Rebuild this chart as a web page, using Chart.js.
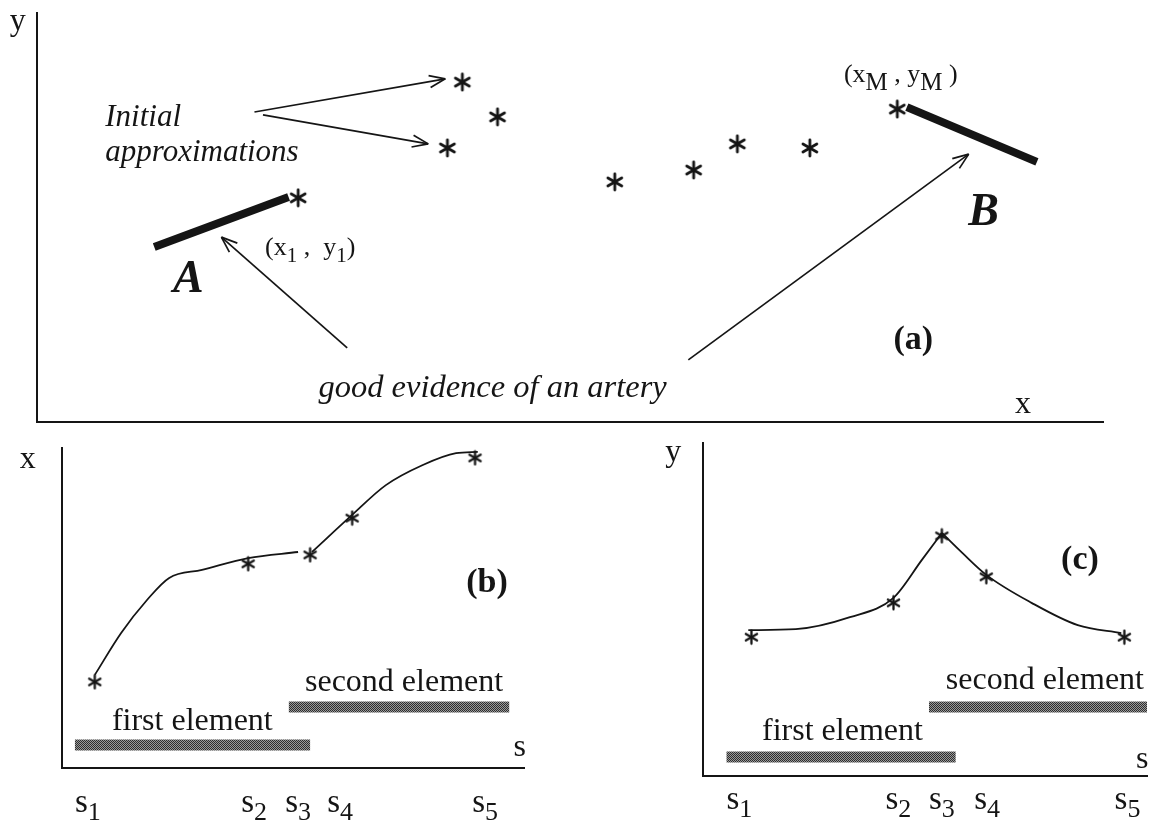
<!DOCTYPE html>
<html>
<head>
<meta charset="utf-8">
<title>Artery tracking sketch</title>
<script src="https://cdn.jsdelivr.net/npm/chart.js@4.4.1/dist/chart.umd.min.js"></script>
<style>
  html, body { margin: 0; background: #fff; }
  #wrap { position: relative; width: 1153px; height: 822px; overflow: hidden; }
  canvas { position: absolute; }
</style>
</head>
<body>
<div id="wrap">
  <canvas id="panelA" width="1153" height="440" style="left:0px;top:0px"></canvas>
  <canvas id="panelB" width="576" height="392" style="left:0px;top:430px"></canvas>
  <canvas id="panelC" width="577" height="392" style="left:576px;top:430px"></canvas>
</div>
<script>
// (a) the x-y plane, both axes run 0..100
const aStarX = [24.5, 39.9, 43.2, 38.5, 54.2, 61.6, 65.7, 72.5, 80.7];
const aStarY = [54.8, 83.1, 74.6, 67.0, 58.7, 61.6, 68.0, 67.0, 76.5];
const aSegAX = [11.0, 23.6];
const aSegAY = [42.8, 55.0];
const aSegBX = [81.6, 93.8];
const aSegBY = [77.0, 63.6];
// arrows, tail then head
const aArrowX = [[20.4, 38.3], [21.2, 36.7], [29.1, 17.3], [61.1, 87.4]];
const aArrowY = [[75.8, 83.9], [75.1, 68.0], [18.1, 45.2], [15.2, 65.5]];

// (b) x against s
const sTicksB = [5.6, 41.6, 51.1, 60.2, 91.6];
const bStarS = [7.1, 40.3, 53.7, 62.8, 89.4];
const bStarX = [26.9, 63.8, 66.6, 78.1, 96.9];
const bFirstS = [7.1, 12.8, 18.4, 23.2, 30.3, 40.3, 51.1];
const bFirstX = [29.1, 42.2, 52.5, 59.4, 61.9, 65.6, 67.5];
const bSecondS = [54.1, 62.8, 70.1, 78.1, 85.3, 90.0];
const bSecondX = [67.5, 79.1, 88.4, 94.7, 98.4, 98.8];
const bElemS = [[2.8, 53.7], [49.1, 96.8]];
const bElemLevel = [7.2, 19.1];

// (c) y against s
const sTicksC = [8.2, 44.0, 53.8, 64.0, 95.6];
const cStarS = [10.9, 42.9, 53.8, 63.8, 94.9];
const cStarY = [41.7, 52.0, 72.1, 59.8, 41.7];
const cFirstS = [10.2, 20.9, 33.1, 42.9, 49.3, 53.8];
const cFirstY = [43.8, 44.1, 47.7, 53.5, 64.9, 73.0];
const cSecondS = [53.8, 58.4, 63.8, 74.0, 84.4, 94.2];
const cSecondY = [73.0, 67.0, 60.4, 52.0, 45.3, 42.9];
const cElemS = [[5.3, 56.9], [50.9, 100]];
const cElemLevel = [5.7, 20.7];

const INK = '#151515';
const FONT = "'Liberation Serif', 'Times New Roman', Times, serif";
const f = (spec) => spec + ' ' + FONT;

const pts = (xs, ys) => xs.map((x, i) => ({ x, y: ys[i] }));

function makeStar(r, w) {
    const c = document.createElement('canvas');
    c.width = c.height = Math.ceil(2 * r + 4);
    const g = c.getContext('2d');
    g.translate(c.width / 2, c.height / 2);
    g.strokeStyle = INK;
    g.lineWidth = w;
    g.lineCap = 'round';
    [90, 30, 150].forEach(deg => {
        const a = deg * Math.PI / 180;
        g.beginPath();
        g.moveTo(-r * Math.cos(a), -r * Math.sin(a));
        g.lineTo(r * Math.cos(a), r * Math.sin(a));
        g.stroke();
    });
    return c;
}

function makeHatch() {
    const c = document.createElement('canvas');
    c.width = c.height = 2;
    const g = c.getContext('2d');
    g.fillStyle = '#9a9a9a';
    g.fillRect(0, 0, 2, 2);
    g.fillStyle = '#2e2e2e';
    g.fillRect(0, 0, 1, 1);
    g.fillRect(1, 1, 1, 1);
    return g.createPattern(c, 'repeat');
}

const hatch = makeHatch();

const starSet = (data, star) => ({
    data, showLine: false, pointStyle: star, pointRadius: 5, clip: false,
});
const lineSet = (data, width, extra) => Object.assign({
    data, showLine: true, borderColor: INK, borderWidth: width,
    pointRadius: 0, clip: false, borderCapStyle: 'butt',
}, extra || {});
const elemSet = (s, level) => lineSet(pts(s, [level, level]), 11, { borderColor: hatch });

const arrowHeads = {
    id: 'arrowHeads',
    afterDatasetsDraw(chart) {
        const { ctx } = chart;
        ctx.save();
        ctx.strokeStyle = INK;
        ctx.lineWidth = 1.7;
        chart.data.datasets.forEach((ds, i) => {
            if (!ds.arrow) return;
            const p = chart.getDatasetMeta(i).data;
            const a = Math.atan2(p[1].y - p[0].y, p[1].x - p[0].x);
            [-0.36, 0.36].forEach(d => {
                ctx.beginPath();
                ctx.moveTo(p[1].x, p[1].y);
                ctx.lineTo(p[1].x - 17 * Math.cos(a + d), p[1].y - 17 * Math.sin(a + d));
                ctx.stroke();
            });
        });
        ctx.restore();
    },
};

function notesPlugin(items, ticks) {
    return {
        id: 'notes',
        afterDraw(chart) {
            const { ctx, scales: { x, y } } = chart;
            const all = items.slice();
            if (ticks) {
                ticks.values.forEach((v, i) => all.push({
                    x: v, y: ticks.at, align: 'center',
                    runs: [['s', f('33px')], [String(i + 1), f('26px'), 10]],
                }));
            }
            ctx.save();
            ctx.fillStyle = INK;
            ctx.textBaseline = 'middle';
            ctx.textAlign = 'left';
            all.forEach(n => {
                const runs = n.runs || [[n.text, n.font, 0]];
                let px = x.getPixelForValue(n.x);
                const py = y.getPixelForValue(n.y);
                const widths = runs.map(r => { ctx.font = r[1]; return ctx.measureText(r[0]).width; });
                const total = widths.reduce((s, w) => s + w, 0);
                if (n.align === 'center') px -= total / 2;
                runs.forEach((r, i) => {
                    ctx.font = r[1];
                    ctx.fillText(r[0], px, py + (r[2] || 0));
                    px += widths[i];
                });
            });
            ctx.restore();
        },
    };
}

const axis = () => ({
    type: 'linear', min: 0, max: 100,
    grid: { display: false, drawTicks: false },
    ticks: { display: false },
    border: { display: true, color: INK, width: 2 },
});

function panel(id, padding, datasets, notes, ticks) {
    return new Chart(document.getElementById(id), {
        type: 'scatter',
        data: { datasets },
        options: {
            responsive: false,
            animation: false,
            events: [],
            layout: { padding },
            plugins: { legend: { display: false }, tooltip: { enabled: false } },
            scales: { x: axis(), y: axis() },
        },
        plugins: [arrowHeads, notesPlugin(notes, ticks)],
    });
}

// panel (a)
panel('panelA', { left: 37, top: 13, right: 50, bottom: 18 }, [
    lineSet(pts(aSegAX, aSegAY), 8),
    lineSet(pts(aSegBX, aSegBY), 8),
    ...aArrowX.map((xs, i) => lineSet(pts(xs, aArrowY[i]), 1.7, { arrow: true })),
    starSet(pts(aStarX, aStarY), makeStar(8, 2.8)),
], [
    { x: -1.8, y: 97.8, text: 'y', font: f('32px'), align: 'center' },
    { x: 92.5, y: 4.2, text: 'x', font: f('32px'), align: 'center' },
    { x: 6.4, y: 74.3, text: 'Initial', font: f('italic 31px') },
    { x: 6.4, y: 65.8, text: 'approximations', font: f('italic 31px') },
    { x: 21.4, y: 42.5, runs: [['(x', f('26px')], ['1', f('21px'), 8], [' ,  y', f('26px')], ['1', f('21px'), 8], [')', f('26px')]] },
    { x: 14.2, y: 34.7, text: 'A', font: f('bold italic 46px'), align: 'center' },
    { x: 26.4, y: 8.3, text: 'good evidence of an artery', font: f('italic 32.5px') },
    { x: 75.7, y: 84.8, runs: [['(x', f('26px')], ['M', f('25px'), 8], [' , y', f('26px')], ['M', f('25px'), 8], [' )', f('26px')]] },
    { x: 88.8, y: 51.1, text: 'B', font: f('bold italic 46px'), align: 'center' },
    { x: 82.2, y: 20.0, text: '(a)', font: f('bold 34px'), align: 'center' },
]);

// panel (b)
panel('panelB', { left: 62, top: 18, right: 52, bottom: 54 }, [
    lineSet(pts(bFirstS, bFirstX), 1.8, { cubicInterpolationMode: 'monotone' }),
    lineSet(pts(bSecondS, bSecondX), 1.8, { cubicInterpolationMode: 'monotone' }),
    ...bElemS.map((s, i) => elemSet(s, bElemLevel[i])),
    starSet(pts(bStarS, bStarX), makeStar(6.5, 2.3)),
], [
    { x: -7.4, y: 96.3, text: 'x', font: f('32px'), align: 'center' },
    { x: 99.1, y: 6.3, text: 's', font: f('32px'), align: 'center' },
    { x: 92.0, y: 57.8, text: '(b)', font: f('bold 34px'), align: 'center' },
    { x: 10.8, y: 14.5, text: 'first element', font: f('32px') },
    { x: 52.6, y: 26.6, text: 'second element', font: f('32px') },
], { values: sTicksB, at: -10.9 });

// panel (c)
panel('panelC', { left: 127, top: 13, right: 0, bottom: 46 }, [
    lineSet(pts(cFirstS, cFirstY), 1.8, { cubicInterpolationMode: 'monotone' }),
    lineSet(pts(cSecondS, cSecondY), 1.8, { cubicInterpolationMode: 'monotone' }),
    ...cElemS.map((s, i) => elemSet(s, cElemLevel[i])),
    starSet(pts(cStarS, cStarY), makeStar(6.5, 2.3)),
], [
    { x: -6.7, y: 97.0, text: 'y', font: f('32px'), align: 'center' },
    { x: 98.9, y: 4.8, text: 's', font: f('32px'), align: 'center' },
    { x: 84.9, y: 64.9, text: '(c)', font: f('bold 34px'), align: 'center' },
    { x: 13.3, y: 13.2, text: 'first element', font: f('32px') },
    { x: 54.7, y: 28.8, text: 'second element', font: f('32px') },
], { values: sTicksC, at: -7.2 });
</script>
</body>
</html>
